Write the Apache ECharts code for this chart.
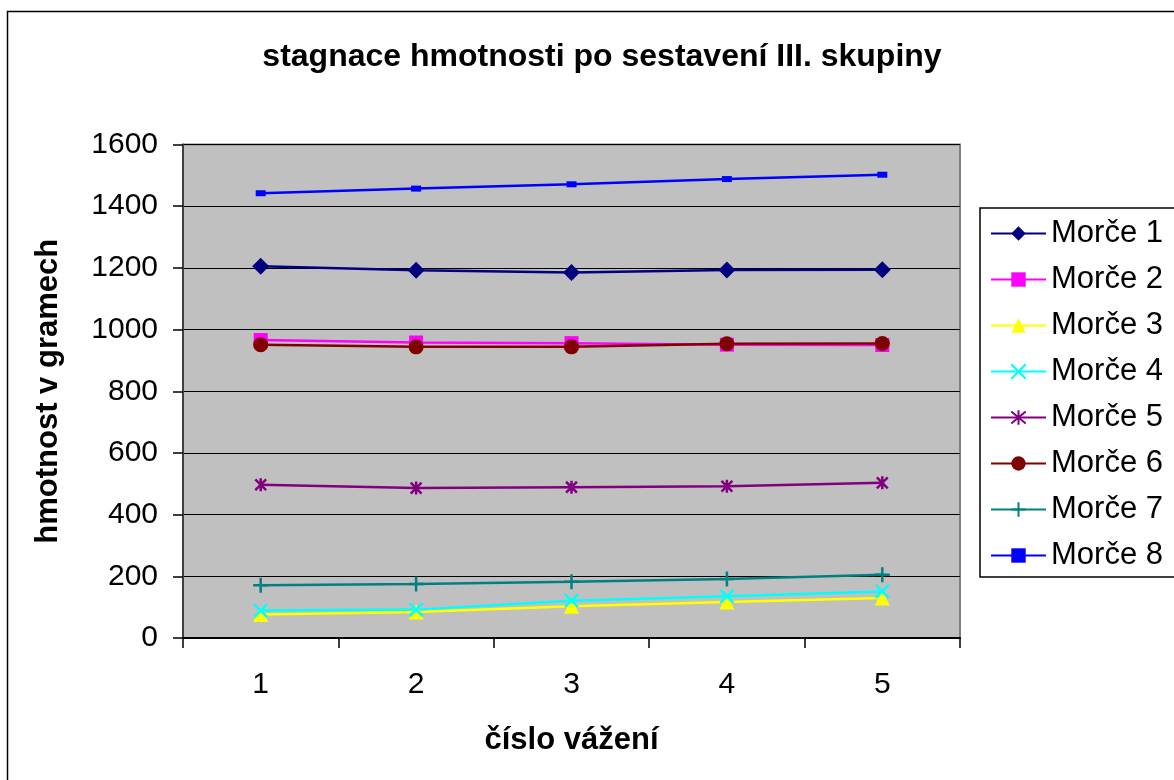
<!DOCTYPE html>
<html>
<head>
<meta charset="utf-8">
<script src="https://cdn.jsdelivr.net/npm/echarts@6/dist/echarts.min.js"></script>
<style>
  html, body { margin: 0; padding: 0; background: #fff; }
  #chart { width: 1174px; height: 780px; }
</style>
</head>
<body>
<div id="chart"></div>
<script>
  // cislo vazeni
  const weighings = ['1', '2', '3', '4', '5'];
  const names = ['Morče 1', 'Morče 2', 'Morče 3', 'Morče 4', 'Morče 5', 'Morče 6', 'Morče 7', 'Morče 8'];
  const morce1 = [1205, 1192, 1185, 1193, 1194];
  const morce2 = [966, 958, 956, 951, 950];
  const morce3 = [76, 84, 103, 117, 130];
  const morce4 = [89, 92, 121, 135, 151];
  const morce5 = [497, 486, 489, 492, 503];
  const morce6 = [951, 944, 944, 954, 955];
  const morce7 = [171, 175, 182, 191, 205];
  const morce8 = [1442, 1457, 1471, 1488, 1502];
  const yTicks = [0, 200, 400, 600, 800, 1000, 1200, 1400, 1600];

  const font = "'Liberation Sans', Arial, sans-serif";

  // excel-like marker shapes
  const xPath = 'path://M0,0L10,10M10,0L0,10';
  const starPath = 'path://M0,0L10,10M10,0L0,10M5,-1L5,11';
  const plusPath = 'path://M5,0L5,10M0,5L10,5';
  const flatRect = 'path://M0,0L10,0L10,6L0,6Z';

  function line(name, data, color, symbol, size, stroke) {
    return {
      name: name,
      type: 'line',
      data: data,
      color: color,
      symbol: symbol,
      symbolSize: size,
      symbolKeepAspect: true,
      showAllSymbol: true,
      lineStyle: { color: color, width: 2.5 },
      itemStyle: stroke ? { color: color, borderColor: color, borderWidth: 2.5 } : { color: color },
      emphasis: { disabled: true },
      animation: false
    };
  }

  let myChart = echarts.init(document.getElementById('chart'));
  myChart.setOption({
    backgroundColor: '#fff',
    animation: false,
    textStyle: { fontFamily: font },
    graphic: [{
      type: 'rect',
      shape: { x: 7.5, y: 11.5, width: 1300, height: 900 },
      style: { fill: null, stroke: '#000', lineWidth: 1.5 },
      z: -1
    }],
    title: {
      text: 'stagnace hmotnosti po sestavení III. skupiny',
      left: 597,
      textAlign: 'center',
      top: 36,
      textStyle: { fontFamily: font, fontSize: 32, fontWeight: 'bold', color: '#000' }
    },
    legend: {
      orient: 'vertical',
      left: 980,
      top: 208,
      padding: [10, 30, 6, 10],
      itemWidth: 55,
      itemHeight: 18,
      itemGap: 15,
      borderColor: '#000',
      borderWidth: 1.5,
      backgroundColor: '#fff',
      textStyle: { fontFamily: font, fontSize: 31, color: '#000', lineHeight: 30 },
      data: names
    },
    grid: {
      left: 183,
      right: 214,
      top: 144.5,
      bottom: 142,
      show: true,
      backgroundColor: '#c0c0c0',
      borderColor: '#808080',
      borderWidth: 2
    },
    xAxis: {
      type: 'category',
      data: weighings,
      boundaryGap: true,
      name: 'číslo vážení',
      nameLocation: 'middle',
      nameGap: 87,
      nameTextStyle: { fontFamily: font, fontSize: 31, fontWeight: 'bold', color: '#000' },
      axisLine: { lineStyle: { color: '#000', width: 2 } },
      axisTick: { show: true, length: 10, alignWithLabel: false, lineStyle: { color: '#000', width: 1.5 } },
      axisLabel: { fontFamily: font, fontSize: 30, color: '#000', margin: 32 },
      splitLine: { show: false }
    },
    yAxis: {
      type: 'value',
      min: yTicks[0],
      max: yTicks[yTicks.length - 1],
      interval: 200,
      name: 'hmotnost v gramech',
      nameLocation: 'middle',
      nameRotate: 90,
      nameGap: 119,
      nameTextStyle: { fontFamily: font, fontSize: 31, fontWeight: 'bold', color: '#000' },
      axisLine: { show: true, lineStyle: { color: '#404040', width: 2 } },
      axisTick: { show: true, length: 10, lineStyle: { color: '#000', width: 1.5 } },
      axisLabel: { fontFamily: font, fontSize: 30, color: '#000', margin: 25, formatter: v => String(v) },
      splitLine: { show: true, lineStyle: { color: '#000', width: 1.2 } }
    },
    series: [
      line(names[0], morce1, '#000080', 'diamond', 17),
      line(names[1], morce2, '#ff00ff', 'rect', 14),
      line(names[2], morce3, '#ffff00', 'triangle', 15),
      line(names[3], morce4, '#00ffff', xPath, 13, true),
      line(names[4], morce5, '#800080', starPath, 13, true),
      line(names[5], morce6, '#800000', 'circle', 15),
      line(names[6], morce7, '#008080', plusPath, 15, true),
      line(names[7], morce8, '#0000ff', flatRect, 10)
    ]
  });
</script>
</body>
</html>
